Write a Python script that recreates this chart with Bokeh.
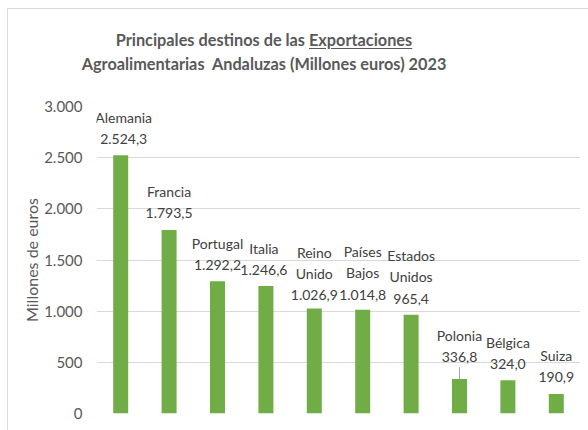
from bokeh.plotting import figure
from bokeh.layouts import column
from bokeh.models import Range1d, FixedTicker, ColumnDataSource, Div
from bokeh.core.properties import value
from bokeh.embed import file_html
from bokeh.resources import INLINE

# ---- data ----
title_line1 = "Principales destinos de las"
title_word = "Exportaciones"
title_line2 = "Agroalimentarias  Andaluzas (Millones euros) 2023"
countries = ["Alemania", "Francia", "Portugal", "Italia", "Reino Unido",
             "Países Bajos", "Estados Unidos", "Polonia", "Bélgica", "Suiza"]
exports = [2524.3, 1793.5, 1292.2, 1246.6, 1026.9, 1014.8, 965.4, 336.8, 324.0, 190.9]
y_ticks = [0, 500, 1000, 1500, 2000, 2500, 3000]
y_label = "Millones de euros"

# ---- layout / style ----
FONT = "Lato"
TXT = "#595959"
LBL = "#404040"
GREEN = "#70AD47"
GRID = "#D9D9D9"
label_gap_px = [8, 9, 8, 8, 5, 7, 8, 14, 8, 9]   # gap between label block and bar top
label_dx_px = [3, 0, 0, -2, 0, 0, 0, 0, 0, 0]    # small horizontal nudges
W, H_TITLE, H_FIG = 588, 94, 336
FT, FR, FB = 12, 8, 17


def es_num(v, dec):
    s = f"{v:,.{dec}f}"
    return s.replace(",", "X").replace(".", ",").replace("X", ".")


labels = [c.replace(" ", "\n") + "\n" + es_num(v, 1) for c, v in zip(countries, exports)]

src = ColumnDataSource(dict(x=countries, top=exports, lab=labels,
                            off=[-g for g in label_gap_px], dx=label_dx_px))

title_html = (
    f'<div style="position:relative;width:{W}px;height:{H_TITLE}px;">'
    f'<div style="position:absolute;left:7px;top:8px;width:600px;height:430px;'
    f'border-left:1px solid {GRID};border-top:1px solid {GRID};"></div>'
    f'<div style="position:absolute;left:0;top:28px;width:528px;text-align:center;'
    f'font-family:{FONT};font-weight:bold;font-size:16.3px;line-height:23.5px;color:{TXT};'
    f'white-space:pre;">'
    f'{title_line1} <span style="text-decoration:underline;text-underline-offset:2px;">'
    f'{title_word}</span><br>{title_line2}</div></div>'
)
div = Div(text=title_html, width=W, height=H_TITLE, margin=0)

p = figure(x_range=countries, y_range=Range1d(0, 3000), width=W, height=H_FIG,
           output_backend="svg", toolbar_location=None,
           min_border_left=96, min_border_right=FR, min_border_top=FT, min_border_bottom=FB)
p.title = None
p.outline_line_color = None
p.background_fill_color = "white"
p.border_fill_color = None
p.xaxis.visible = False
p.xgrid.grid_line_color = None
p.ygrid.grid_line_color = GRID
p.ygrid.grid_line_width = 1

ax = p.yaxis[0]
ax.ticker = FixedTicker(ticks=y_ticks)
ax.major_label_overrides = {t: es_num(t, 0) for t in y_ticks}
ax.axis_line_color = None
ax.major_tick_line_color = None
ax.minor_tick_line_color = None
ax.major_label_text_font = FONT
ax.major_label_text_font_size = "15px"
ax.major_label_text_color = TXT
ax.major_label_standoff = 8
ax.axis_label = y_label
ax.axis_label_text_font = FONT
ax.axis_label_text_font_size = "16px"
ax.axis_label_text_font_style = "normal"
ax.axis_label_text_color = TXT
ax.axis_label_standoff = 0

p.vbar(x="x", top="top", width=0.31, source=src, color=GREEN, line_color=None)

p.text(x="x", y="top", text="lab", source=src, y_offset="off", x_offset="dx",
       text_align="center", text_baseline="bottom", text_line_height=1.25,
       text_font=value(FONT), text_font_size="14px", text_color=LBL)

# leader line for Polonia
i = countries.index("Polonia")
px_to_data = 3000 / (H_FIG - FT - FB)
p.segment(x0=[countries[i]], y0=[exports[i]], x1=[countries[i]],
          y1=[exports[i] + 12 * px_to_data], line_color="#A6A6A6", line_width=1)

layout = column(div, p, spacing=0)
open("out.html", "w").write(file_html(layout, INLINE))
